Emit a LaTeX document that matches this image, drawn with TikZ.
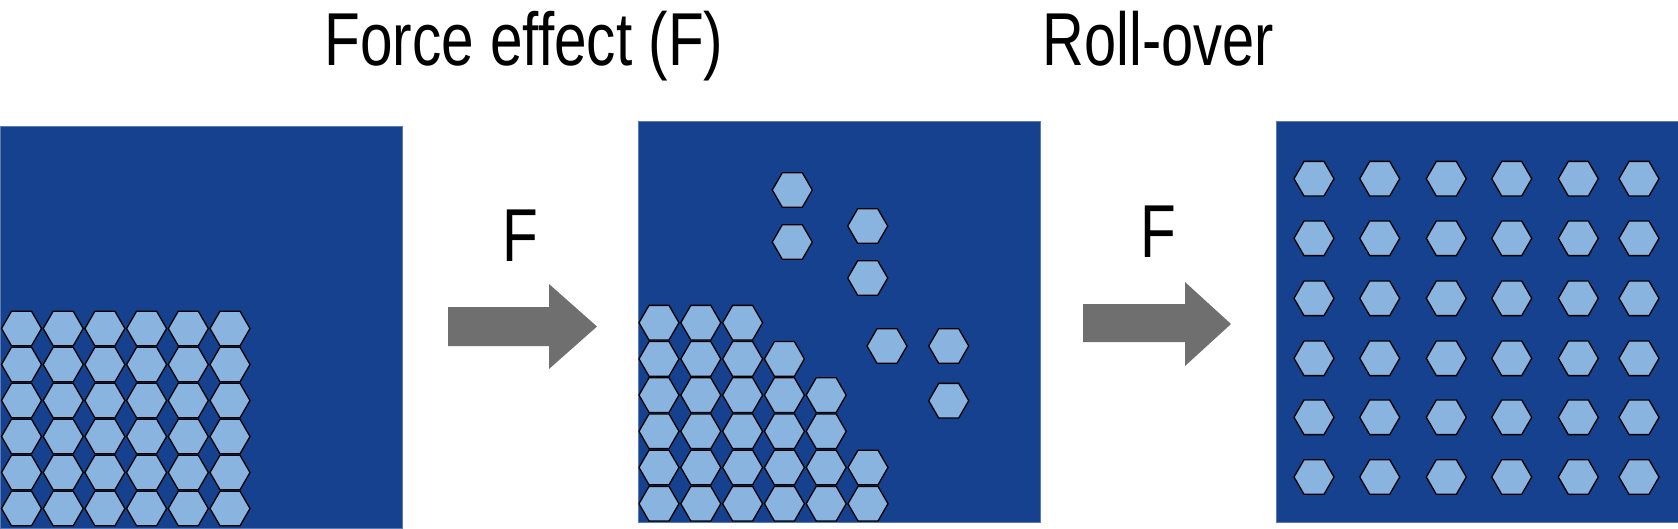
\documentclass[tikz,border=0pt]{standalone}
\usepackage{fontspec}
\setmainfont{Liberation Sans}
\definecolor{panel}{HTML}{15418F}
\definecolor{hexfill}{HTML}{8AB4E0}
\definecolor{arrowgray}{HTML}{6F6F6F}
\newcommand{\myhex}[2]{\draw[hexst] ({#1},{-(#2)}) +(0:20)--+(60:20)--+(120:20)--+(180:20)--+(240:20)--+(300:20)--cycle;}
\begin{document}
\begin{tikzpicture}[x=1pt,y=1pt,
  hexst/.style={fill=hexfill,draw=black,line width=1.3pt,line join=miter},
  panelst/.style={fill=panel,draw=panel!70!white,line width=0.8pt},
  arrowst/.style={fill=arrowgray,draw=none},
  lab/.style={inner sep=0pt,font=\fontsize{75}{80}\selectfont}]
\useasboundingbox (0,0) rectangle (1678,-528);
% panels
\fill[panelst] (0,-126) rectangle (402,-528);
\fill[panelst] (638,-121) rectangle (1040,-522);
\fill[panelst] (1276,-121) rectangle (1678,-522);
% panel 1
\foreach \i in {0,...,5}{\foreach \j in {0,...,5}{\myhex{21.5+41.7*\i}{328.5+36*\j}}}
% panel 2 stack
\foreach \n [count=\r from 0] in {2,3,4,4,5,5}{
  \foreach \i in {0,...,\n}{\myhex{659+41.8*\i}{322.7+36.2*\r}}}
\myhex{792.3}{190}\myhex{792.3}{242}
\myhex{867.7}{226}\myhex{867.7}{278}
\myhex{887}{346}\myhex{948.7}{346}\myhex{948.7}{400.7}
% panel 3
\foreach \x in {1314,1379.7,1446.3,1511.7,1578.3,1639}{
  \foreach \y in {178.7,238.3,298.3,358.3,417.3,477}{\myhex{\x}{\y}}}
% arrows
\fill[arrowst] (448,-307) -- (549,-307) -- (549,-284) -- (597,-326.5) -- (549,-369) -- (549,-346) -- (448,-346) -- cycle;
\fill[arrowst] (1083,-304) -- (1185,-304) -- (1185,-282) -- (1231,-324) -- (1185,-366) -- (1185,-342) -- (1083,-342) -- cycle;
% labels
\node[lab,anchor=base] (t1) at (524,-65) {\scalebox{0.78}[1]{Force effect (F)}};
\node[lab,anchor=base] (t2) at (1158.5,-65) {\scalebox{0.77}[1]{Roll-over}};
\node[lab,anchor=base] (f1) at (520,-261) {\scalebox{0.78}[1]{F}};
\node[lab,anchor=base] (f2) at (1158,-257) {\scalebox{0.78}[1]{F}};
\end{tikzpicture}
\end{document}
